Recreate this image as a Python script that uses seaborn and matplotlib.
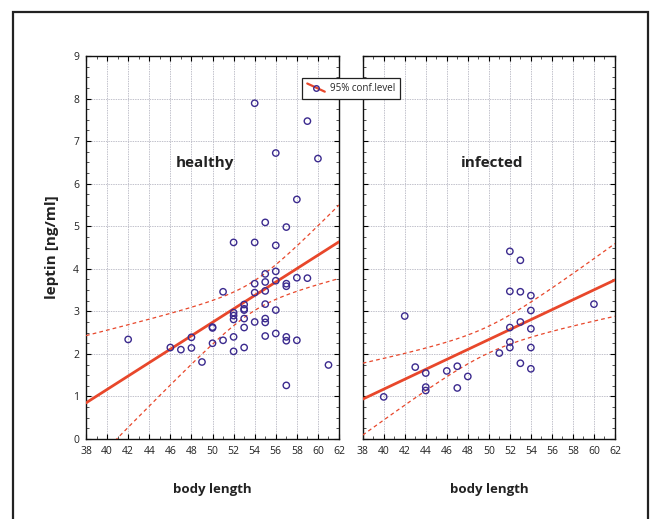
import numpy as np
import pandas as pd
import matplotlib
matplotlib.use("Agg")
import matplotlib.pyplot as plt
import seaborn as sns
from matplotlib.lines import Line2D
from matplotlib.legend_handler import HandlerBase
from matplotlib.patches import Rectangle
from matplotlib.ticker import MultipleLocator

# ---------------- data ----------------
healthy_len = [42, 46, 47, 48, 48, 49, 50, 50, 50, 51, 51,
               52, 52, 52, 52, 52, 52,
               53, 53, 53, 53, 53, 53,
               54, 54, 54, 54, 54,
               55, 55, 55, 55, 55, 55, 55, 55,
               56, 56, 56, 56, 56, 56,
               57, 57, 57, 57, 57, 57,
               58, 58, 58, 59, 59, 60, 61]
healthy_lep = [2.34, 2.15, 2.10, 2.39, 2.14, 1.81, 2.61, 2.63, 2.25, 3.46, 2.32,
               4.62, 2.97, 2.90, 2.81, 2.40, 2.06,
               3.16, 3.06, 3.03, 2.83, 2.62, 2.15,
               7.89, 4.62, 3.65, 3.44, 2.75,
               5.09, 3.88, 3.69, 3.48, 3.17, 2.83, 2.74, 2.42,
               6.72, 4.55, 3.94, 3.72, 3.03, 2.48,
               4.98, 3.65, 3.59, 2.40, 2.31, 1.26,
               5.63, 3.79, 2.32, 7.47, 3.78, 6.59, 1.74]

infected_len = [40, 42, 43, 44, 44, 44, 46, 47, 47, 48, 51,
                52, 52, 52, 52, 52,
                53, 53, 53, 53,
                54, 54, 54, 54, 54, 60]
infected_lep = [0.99, 2.89, 1.69, 1.55, 1.22, 1.14, 1.60, 1.71, 1.20, 1.47, 2.02,
                4.41, 3.47, 2.62, 2.28, 2.15,
                4.20, 3.46, 2.75, 1.78,
                3.37, 3.02, 2.59, 2.15, 1.65, 3.17]

panel_names = ["healthy", "infected"]
x_ticks = list(range(38, 63, 2))
y_ticks = list(range(0, 10))
legend_label = "95% conf.level"
x_label = "body length"
y_label = "leptin [ng/ml]"

RED = "#e8472b"
BLUE = "#3b2a8e"

sns.set_theme(style="white")
plt.rcParams["font.family"] = ["Open Sans", "DejaVu Sans"]


def t975(df):
    z = 1.959964
    return (z + (z**3 + z) / (4 * df) + (5 * z**5 + 16 * z**3 + 3 * z) / (96 * df**2)
            + (3 * z**7 + 19 * z**5 + 17 * z**3 - 15 * z) / (384 * df**3))


def conf_band(x, y, grid):
    x = np.asarray(x, float)
    y = np.asarray(y, float)
    n = len(x)
    b, a = np.polyfit(x, y, 1)
    resid = y - (a + b * x)
    s = np.sqrt(np.sum(resid**2) / (n - 2))
    sxx = np.sum((x - x.mean())**2)
    fit = a + b * grid
    half = t975(n - 2) * s * np.sqrt(1 / n + (grid - x.mean())**2 / sxx)
    return fit - half, fit + half


class DiagHandler(HandlerBase):
    def create_artists(self, legend, orig_handle, xdescent, ydescent,
                       width, height, fontsize, trans):
        x0, y0 = -xdescent, -ydescent
        ln = Line2D([x0, x0 + width], [y0 + height * 1.1, y0 - height * 0.1],
                    color=RED, lw=1.6, transform=trans)
        mk = Line2D([x0 + width / 2], [y0 + height / 2], marker="o", ls="none",
                    mfc="none", mec=BLUE, ms=4, mew=1, transform=trans)
        return [ln, mk]


fig = plt.figure(figsize=(6.55, 5.19), dpi=100)
fig.patch.set_facecolor("white")

ax_l = fig.add_axes([0.1313, 0.1541, 0.3863, 0.7380])
ax_r = fig.add_axes([0.5537, 0.1541, 0.3852, 0.7380])

datasets = [(healthy_len, healthy_lep), (infected_len, infected_lep)]
label_pos = [(49.3, 6.48), (50.3, 6.48)]

for i, (ax, (xs, ys), name) in enumerate(zip([ax_l, ax_r], datasets, panel_names)):
    ax.set_xlim(38, 62)
    ax.set_ylim(0, 9)
    ax.set_xticks(x_ticks)
    ax.set_yticks(y_ticks)
    ax.xaxis.set_minor_locator(MultipleLocator(1))
    ax.yaxis.set_minor_locator(MultipleLocator(0.25))
    ax.grid(True, which="major", color="#c2c2cc", linestyle=(0, (1.5, 1)), linewidth=0.7)
    ax.set_axisbelow(True)
    df = pd.DataFrame({"len": xs, "lep": ys})
    sns.regplot(data=df, x="len", y="lep", ax=ax, scatter=False, ci=None,
                truncate=False, line_kws=dict(color=RED, lw=2.0, zorder=3))
    grid = np.linspace(38, 62, 200)
    lo, hi = conf_band(xs, ys, grid)
    for band in (lo, hi):
        ax.plot(grid, band, color=RED, lw=0.9, ls=(0, (3, 2.5)), zorder=3)
    ax.scatter(df["len"], df["lep"], s=21, facecolors="none", edgecolors=BLUE,
               linewidths=1.0, zorder=4)
    ax.text(label_pos[i][0], label_pos[i][1], name, ha="center", va="center",
            fontsize=11, fontweight="bold", color="#222222")
    ax.set_xlim(38, 62)
    ax.set_ylim(0, 9)
    ax.tick_params(which="major", direction="in", length=3.5, width=0.8, top=True,
                   right=True, left=True, bottom=True, labelsize=7.5, colors="black", pad=5)
    ax.tick_params(which="minor", direction="in", length=2, width=0.6, top=True,
                   right=True, left=True, bottom=True, colors="#333333")
    ax.tick_params(axis="both", which="major", labelcolor="#222222")
    for sp in ax.spines.values():
        sp.set_color("#111111")
        sp.set_linewidth(1.0)
        sp.set_visible(True)
    ax.set_xlabel(x_label, fontsize=9.5, fontweight="bold", labelpad=19, color="#222222")
    if i == 0:
        ax.set_ylabel(y_label, fontsize=11, fontweight="bold", labelpad=10, color="#222222")
    else:
        ax.set_ylabel("")
        ax.tick_params(labelleft=False)

handle = Line2D([], [], color=RED)
leg = fig.legend([handle], [legend_label], handler_map={Line2D: DiagHandler()},
                 loc="center", bbox_to_anchor=(0.536, 0.8295), fontsize=7,
                 frameon=True, fancybox=False, framealpha=1, edgecolor="#222222",
                 handlelength=1.8, handletextpad=0.5, borderpad=0.5)
leg.get_frame().set_linewidth(0.9)

fig.patches.append(Rectangle((0.0198, -0.05), 0.9695, 1.027, transform=fig.transFigure,
                             fill=False, edgecolor="#222222", lw=1.6))

fig.savefig("out.png", dpi=100)
